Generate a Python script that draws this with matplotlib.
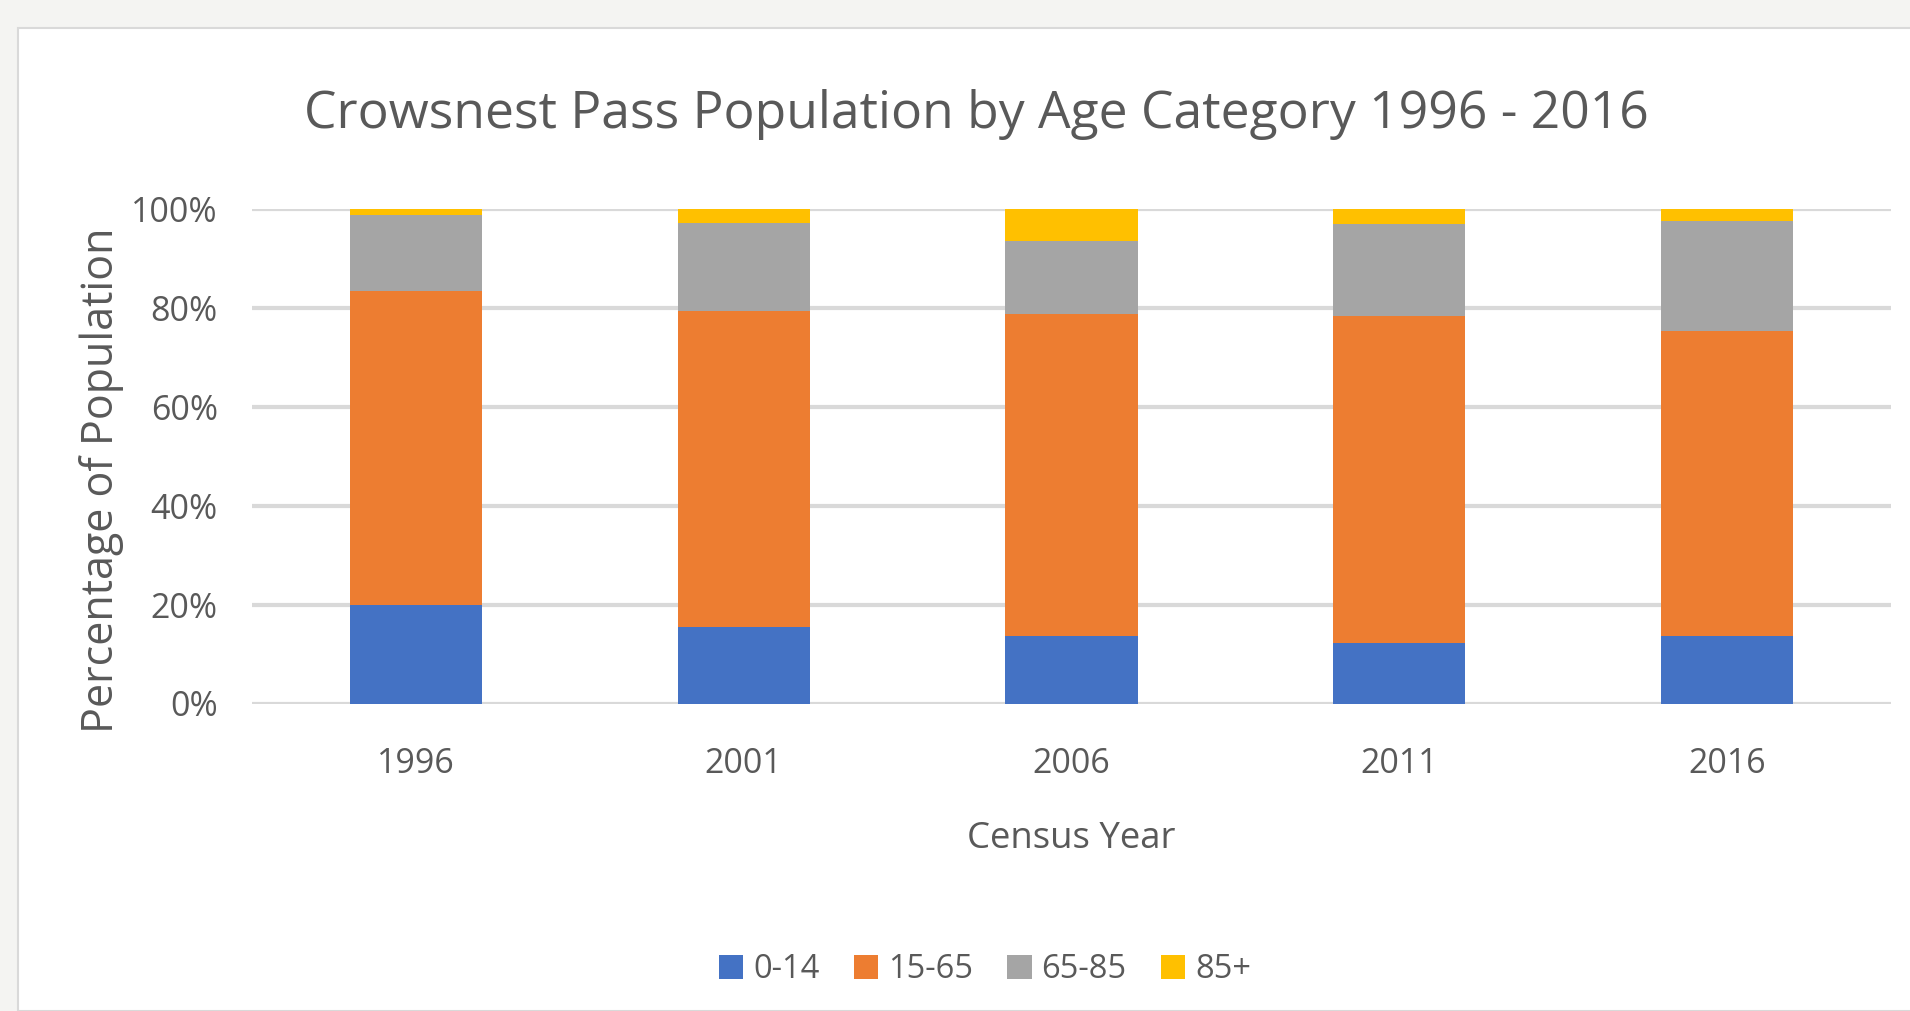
import matplotlib
matplotlib.use("Agg")
import matplotlib.pyplot as plt
from matplotlib.patches import Rectangle
from matplotlib.ticker import PercentFormatter, FixedLocator
import numpy as np

# ---- data (percent of population) ----
years = ["1996", "2001", "2006", "2011", "2016"]
age_0_14 = [19.9, 15.5, 13.6, 12.2, 13.6]
age_15_65 = [63.6, 63.9, 65.1, 66.1, 61.8]
age_65_85 = [15.2, 17.8, 14.8, 18.6, 22.1]
age_85_plus = [1.3, 2.8, 6.5, 3.1, 2.5]
series_labels = ["0-14", "15-65", "65-85", "85+"]
y_ticks = [0, 20, 40, 60, 80, 100]

colors = ["#4472C4", "#ED7D31", "#A5A5A5", "#FFC000"]
text_color = "#595959"
font = "Open Sans"

W, H = 1910, 1011
fig = plt.figure(figsize=(W / 100, H / 100), dpi=100)
fig.patch.set_facecolor("#f4f4f2")

# white chart area with thin border
fig.patches.append(Rectangle((18 / W, 0), 1.0, (H - 28) / H, transform=fig.transFigure,
                             facecolor="white", edgecolor="#d9d9d9", linewidth=1.5, zorder=-10))

ax = fig.add_axes([252 / W, (H - 703.5) / H, (1891 - 252) / W, (703.5 - 209) / H])
ax.set_facecolor("white")
ax.set_zorder(1)

x = np.arange(len(years))
series = [age_0_14, age_15_65, age_65_85, age_85_plus]
bottom = np.zeros(len(years))
for vals, lab, col in zip(series, series_labels, colors):
    v = np.array(vals, dtype=float)
    ax.bar(x, v, width=0.403, bottom=bottom, color=col, label=lab, zorder=3, linewidth=0)
    bottom += v

ax.set_xlim(-0.5, len(years) - 0.5)
ax.set_ylim(0, 100)
ax.yaxis.set_major_locator(FixedLocator(y_ticks))
ax.yaxis.set_major_formatter(PercentFormatter(decimals=0))
ax.set_xticks(x)
ax.set_xticklabels(years)
ax.grid(axis="y", color="#d9d9d9", linewidth=3.0, zorder=0)
ax.set_axisbelow(True)
for s in ax.spines.values():
    s.set_visible(False)
ax.tick_params(axis="both", length=0, labelsize=24.5, labelcolor=text_color)
ax.tick_params(axis="y", pad=24.5)
ax.tick_params(axis="x", pad=31)
for t in ax.get_xticklabels() + ax.get_yticklabels():
    t.set_family(font)

ax.set_xlabel("Census Year", fontsize=26.3, color=text_color, family=font, labelpad=29)
fig.text(102 / W, (H - 480) / H, "Percentage of Population", rotation=90, ha="center", va="center",
         fontsize=31, color=text_color, family=font)

fig.text(976 / W, (H - 128) / H, "Crowsnest Pass Population by Age Category 1996 - 2016",
         ha="center", va="baseline", fontsize=37.2, color=text_color, family=font)

leg = fig.legend(loc="center", bbox_to_anchor=(985 / W, (H - 970) / H), ncol=4, frameon=False,
                 handlelength=0.75, handleheight=0.75, handletextpad=0.3, columnspacing=1.05,
                 prop={"family": font, "size": 23.5})
for t in leg.get_texts():
    t.set_color(text_color)

fig.savefig("out.png", dpi=100, facecolor=fig.get_facecolor())
